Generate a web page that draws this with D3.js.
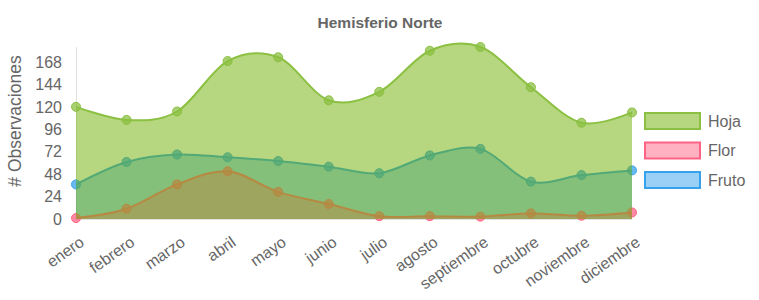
<!DOCTYPE html>
<html>
<head>
<meta charset="utf-8">
<script src="https://cdn.jsdelivr.net/npm/d3@7"></script>
<style>
  body { margin: 0; background: #fff; }
  text { font-family: "Liberation Sans", Arial, sans-serif; fill: #666; }
</style>
</head>
<body>
<div id="chart"></div>
<script>
let w = 759,
    h = 300;

// data
let months = ["enero", "febrero", "marzo", "abril", "mayo", "junio", "julio",
              "agosto", "septiembre", "octubre", "noviembre", "diciembre"];
let hoja  = [120, 106, 115, 169, 173, 127, 136, 180, 184, 141, 103, 114];
let flor  = [1, 11, 37, 51, 29, 16, 3, 3, 2.5, 6, 3.5, 7];
let fruto = [37, 61, 69, 66, 62, 56, 49, 68, 75, 40, 47, 52];
let yTicks = [0, 24, 48, 72, 96, 120, 144, 168];
let seriesNames = ["Hoja", "Flor", "Fruto"];

let colors = {
  Hoja:  { line: "rgb(139,192,66)", fill: "rgba(110,175,0,0.5)" },
  Flor:  { line: "rgb(255,99,132)", fill: "rgba(255,99,132,0.5)" },
  Fruto: { line: "rgb(54,162,235)", fill: "rgba(54,162,235,0.5)" }
};

let margin = { top: 47, left: 76, right: 127, bottom: 81 };

let svg = d3.select("#chart")
            .append("svg")
            .attr("width", w)
            .attr("height", h);

let x = d3.scalePoint()
          .domain(months)
          .range([margin.left, w - margin.right]);

let y = d3.scaleLinear()
          .domain([0, d3.max(hoja)])
          .range([h - margin.bottom, margin.top]);

// title
svg.append("text")
   .attr("x", 380)
   .attr("y", 28)
   .attr("text-anchor", "middle")
   .style("font-size", "15.5px")
   .style("font-weight", "bold")
   .text("Hemisferio Norte");

// axis label
svg.append("text")
   .attr("transform", "translate(21," + 121 + ") rotate(-90)")
   .attr("text-anchor", "middle")
   .style("font-size", "17.5px")
   .text("# Observaciones");

// axis border lines
svg.append("line")
   .attr("x1", margin.left + 0.5).attr("x2", margin.left + 0.5)
   .attr("y1", margin.top).attr("y2", y(0))
   .style("stroke", "rgba(0,0,0,0.12)");
svg.append("line")
   .attr("x1", margin.left).attr("x2", w - margin.right)
   .attr("y1", y(0) + 0.5).attr("y2", y(0) + 0.5)
   .style("stroke", "rgba(0,0,0,0.12)");

// y ticks
svg.selectAll(".ytick")
   .data(yTicks)
   .enter()
   .append("text")
   .attr("class", "ytick")
   .attr("x", 62)
   .attr("y", d => y(d))
   .attr("dy", "0.36em")
   .attr("text-anchor", "end")
   .style("font-size", "16px")
   .text(d => d);

// x ticks
svg.selectAll(".xtick")
   .data(months)
   .enter()
   .append("text")
   .attr("class", "xtick")
   .attr("transform", d => "translate(" + (x(d) + 6) + "," + 240 + ") rotate(-35)")
   .attr("text-anchor", "end")
   .attr("dy", "0.35em")
   .style("font-size", "16px")
   .text(d => d);

let data = { Hoja: hoja, Flor: flor, Fruto: fruto };

let curve = d3.curveCardinal.tension(0);

let area = d3.area()
             .x((d, i) => x(months[i]))
             .y0(y(0))
             .y1(d => y(d))
             .curve(curve);

let line = d3.line()
             .x((d, i) => x(months[i]))
             .y(d => y(d))
             .curve(curve);

// drawn last dataset first, like the original
seriesNames.slice().reverse().forEach(name => {
  let g = svg.append("g").attr("class", "series");
  let vals = data[name];
  let c = colors[name];

  g.append("path")
   .attr("d", area(vals))
   .style("fill", c.fill);

  g.append("path")
   .attr("d", line(vals))
   .style("fill", "none")
   .style("stroke", c.line)
   .style("stroke-width", 2);

  g.selectAll("circle")
   .data(vals)
   .enter()
   .append("circle")
   .attr("cx", (d, i) => x(months[i]))
   .attr("cy", d => y(d))
   .attr("r", 4.5)
   .style("fill", c.line)
   .style("fill-opacity", 0.75)
   .style("stroke", c.line)
   .style("stroke-width", 1);
});

// legend
let legend = svg.selectAll(".legend")
                .data(seriesNames)
                .enter()
                .append("g")
                .attr("class", "legend")
                .attr("transform", (d, i) => "translate(645," + (113 + i * 29.5) + ")");

legend.append("rect")
      .attr("width", 55)
      .attr("height", 16)
      .style("fill", d => colors[d].fill)
      .style("stroke", d => colors[d].line)
      .style("stroke-width", 2);

legend.append("text")
      .attr("x", 63)
      .attr("y", 8)
      .attr("dy", "0.36em")
      .style("font-size", "16px")
      .text(d => d);
</script>
</body>
</html>
